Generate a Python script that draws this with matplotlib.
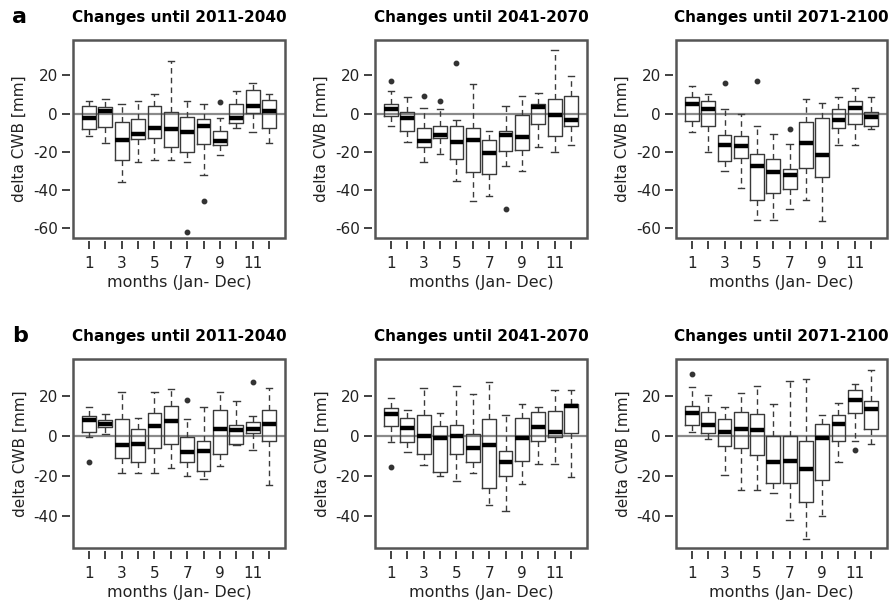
import numpy as np
import matplotlib.pyplot as plt
from matplotlib.patches import Rectangle

plt.rcParams['font.family'] = ['DejaVu Sans']
plt.rcParams['axes.unicode_minus'] = False

months = list(range(1, 13))
month_labels = ['1', '', '3', '', '5', '', '7', '', '9', '', '11', '']
periods = ['Changes until 2011-2040', 'Changes until 2041-2070', 'Changes until 2071-2100']

# ---- row a ----
a1_lo = [-12.0, -15.2, -35.7, -25.3, -24.2, -24.2, -25.6, -32.4, -21.8, -7.8, -9.6, -15.2]
a1_q1 = [-8.2, -7.0, -24.6, -13.4, -12.9, -17.8, -19.9, -15.9, -16.4, -5.2, 0.2, -7.7]
a1_med = [-2.4, 1.4, -14.1, -10.6, -7.7, -8.2, -9.8, -6.8, -14.6, -2.4, 3.7, 1.4]
a1_q3 = [4.0, 3.3, -4.7, -3.0, 4.0, 1.0, -1.9, -3.0, -8.9, 5.1, 12.4, 7.1]
a1_hi = [6.6, 7.5, 4.9, 6.6, 10.1, 27.5, 6.6, 4.9, -2.1, 11.8, 16.2, 10.1]
a1_out = {7: [-62.2], 8: [-45.8], 9: [6.1]}

a2_lo = [-6.3, -14.9, -25.5, -21.3, -35.3, -45.8, -43.2, -27.3, -30.1, -17.8, -19.9, -16.4]
a2_q1 = [-1.2, -8.9, -17.3, -12.8, -24.0, -30.4, -31.8, -19.4, -19.1, -5.6, -11.7, -6.8]
a2_med = [2.3, -2.4, -14.2, -11.2, -14.7, -13.8, -20.8, -11.5, -12.4, 3.3, -0.7, -3.3]
a2_q3 = [5.1, 0.7, -7.7, -6.3, -6.8, -7.7, -13.8, -9.1, -0.7, 4.9, 7.5, 9.3]
a2_hi = [11.9, 8.9, 2.8, 2.3, -3.3, 15.4, -9.1, 3.7, 9.3, 10.7, 33.4, 19.4]
a2_out = {1: [16.8], 3: [9.4], 4: [6.3], 5: [26.7], 8: [-50.2]}

a3_lo = [-9.8, -19.9, -30.3, -39.0, -55.9, -55.9, -50.0, -45.5, -56.4, -16.7, -16.7, -8.0]
a3_q1 = [-3.8, -6.8, -25.1, -23.3, -45.1, -41.6, -39.5, -28.6, -33.4, -7.7, -5.4, -6.3]
a3_med = [4.9, 2.4, -16.7, -17.2, -27.7, -30.7, -32.4, -15.2, -21.6, -3.3, 2.8, -1.9]
a3_q3 = [8.9, 6.6, -11.2, -12.0, -21.3, -23.7, -28.9, -4.7, -2.4, 2.3, 6.6, 1.0]
a3_hi = [14.5, 10.1, 2.4, -0.3, -6.3, -10.6, -16.0, 7.5, 5.4, 8.9, 13.6, 8.9]
a3_out = {3: [15.9], 5: [17.2], 7: [-8.2]}

# ---- row b ----
b1_lo = [-0.3, 1.3, -18.4, -18.4, -18.4, -15.9, -19.7, -21.2, -15.0, -4.5, -6.7, -24.5]
b1_q1 = [2.0, 4.5, -10.9, -12.9, -5.9, -3.7, -12.9, -17.2, -8.7, -3.8, 1.7, -2.5]
b1_med = [8.4, 6.4, -4.2, -3.7, 5.4, 7.9, -8.0, -7.2, 3.8, 3.3, 3.8, 6.2]
b1_q3 = [10.0, 8.4, 8.7, 3.7, 11.7, 15.4, -0.3, -2.5, 13.0, 5.8, 7.2, 13.3]
b1_hi = [14.5, 11.2, 22.1, 9.2, 22.1, 23.9, 8.7, 14.5, 22.1, 17.5, 10.0, 24.2]
b1_out = {1: [-12.9], 7: [18.4], 11: [27.0]}

b2_lo = [-3.0, -8.0, -14.5, -19.7, -22.5, -18.3, -34.5, -37.2, -23.8, -13.8, -13.8, -20.5]
b2_q1 = [5.0, -3.0, -8.7, -17.8, -8.7, -12.8, -25.8, -20.0, -12.5, -2.2, -0.3, 1.7]
b2_med = [11.2, 4.2, 0.0, -0.8, 0.0, -5.8, -4.5, -13.0, -0.8, 4.7, 2.2, 15.3]
b2_q3 = [14.2, 9.2, 10.8, 5.3, 5.8, 1.3, 8.7, -7.2, 9.2, 12.2, 12.8, 16.2]
b2_hi = [19.2, 13.3, 24.2, 11.7, 25.3, 21.2, 27.0, 10.8, 16.3, 14.7, 23.3, 23.3]
b2_out = {1: [-15.5]}

b3_lo = [2.2, -1.3, -19.5, -26.7, -26.7, -28.3, -42.0, -51.3, -39.7, -12.8, -2.5, -3.7]
b3_q1 = [5.8, 1.7, -5.0, -5.8, -9.2, -23.3, -23.3, -33.0, -21.7, -2.5, 11.7, 3.8]
b3_med = [11.7, 5.8, 2.2, 3.7, 3.3, -13.0, -12.5, -16.3, -0.8, 6.2, 18.3, 13.7]
b3_q3 = [15.3, 12.2, 8.7, 12.0, 11.3, 0.0, 0.3, -2.5, 6.3, 10.5, 23.3, 17.5]
b3_hi = [24.7, 20.8, 14.5, 21.7, 25.3, 16.3, 27.8, 28.8, 10.5, 16.7, 26.2, 33.0]
b3_out = {1: [31.3], 11: [-6.7]}

row_a = [(a1_lo, a1_q1, a1_med, a1_q3, a1_hi, a1_out),
         (a2_lo, a2_q1, a2_med, a2_q3, a2_hi, a2_out),
         (a3_lo, a3_q1, a3_med, a3_q3, a3_hi, a3_out)]
row_b = [(b1_lo, b1_q1, b1_med, b1_q3, b1_hi, b1_out),
         (b2_lo, b2_q1, b2_med, b2_q3, b2_hi, b2_out),
         (b3_lo, b3_q1, b3_med, b3_q3, b3_hi, b3_out)]

W, H = 893, 610
fig = plt.figure(figsize=(W / 100, H / 100), dpi=100)

col_left = [73, 375, 676]
col_width = [212, 212, 211]
rows = [
    dict(data=row_a, top=40, bottom=238, ylim=(-65.2, 38.5), yticks=[20, 0, -20, -40, -60], letter='a'),
    dict(data=row_b, top=359, bottom=548, ylim=(-55.8, 38.7), yticks=[20, 0, -20, -40], letter='b'),
]


def make_stats(lo, q1, med, q3, hi, out):
    stats = []
    for i, m in enumerate(months):
        stats.append(dict(whislo=lo[i], q1=q1[i], med=med[i], q3=q3[i], whishi=hi[i],
                          fliers=out.get(m, [])))
    return stats


for row in rows:
    for j, panel in enumerate(row['data']):
        l, b = col_left[j], H - row['bottom']
        ax = fig.add_axes([l / W, b / H, col_width[j] / W, (row['bottom'] - row['top']) / H])
        ax.axhline(0, color='#8a8a8a', lw=1.6, zorder=1)
        ax.bxp(make_stats(*panel), positions=months, widths=0.85, capwidths=0.4,
               patch_artist=False, manage_ticks=False,
               boxprops=dict(color='#3a3a3a', lw=1.0),
               whiskerprops=dict(color='#3a3a3a', lw=1.0, linestyle=(0, (4, 3))),
               capprops=dict(color='#3a3a3a', lw=1.0),
               medianprops=dict(color='black', lw=3.2, solid_capstyle='butt'),
               flierprops=dict(marker='o', markersize=3.2, markerfacecolor='#333333',
                               markeredgecolor='#333333'))
        ax.set_xlim(0.02, 12.98)
        ax.set_ylim(*row['ylim'])
        ax.set_xticks(months)
        ax.set_xticklabels(month_labels)
        ax.set_yticks(row['yticks'])
        for s in ax.spines.values():
            s.set_visible(False)
        ax.spines['bottom'].set_position(('outward', 2))
        ax.spines['left'].set_position(('outward', 2))
        ax.add_patch(Rectangle((0, 0), 1, 1, transform=ax.transAxes, fill=False,
                               edgecolor='#555555', lw=1.8, clip_on=False, zorder=5))
        ax.tick_params(axis='both', length=6, width=1.3, color='#333333',
                       labelsize=11, labelcolor='#222222', pad=5)
        ax.tick_params(axis='y', pad=3)
        ax.set_xlabel('months (Jan- Dec)', fontsize=11.5, color='#222222', labelpad=3)
        ax.set_ylabel('delta CWB [mm]', fontsize=11, color='#222222', labelpad=4)
        ax.set_title(periods[j], fontsize=11, fontweight='bold', pad=13)
        if j == 0:
            fig.text(12 / W, 1 - (row['top'] - 17) / H, row['letter'], fontsize=16,
                     fontweight='bold', va='baseline', ha='left')

fig.savefig('out.png', dpi=100)
